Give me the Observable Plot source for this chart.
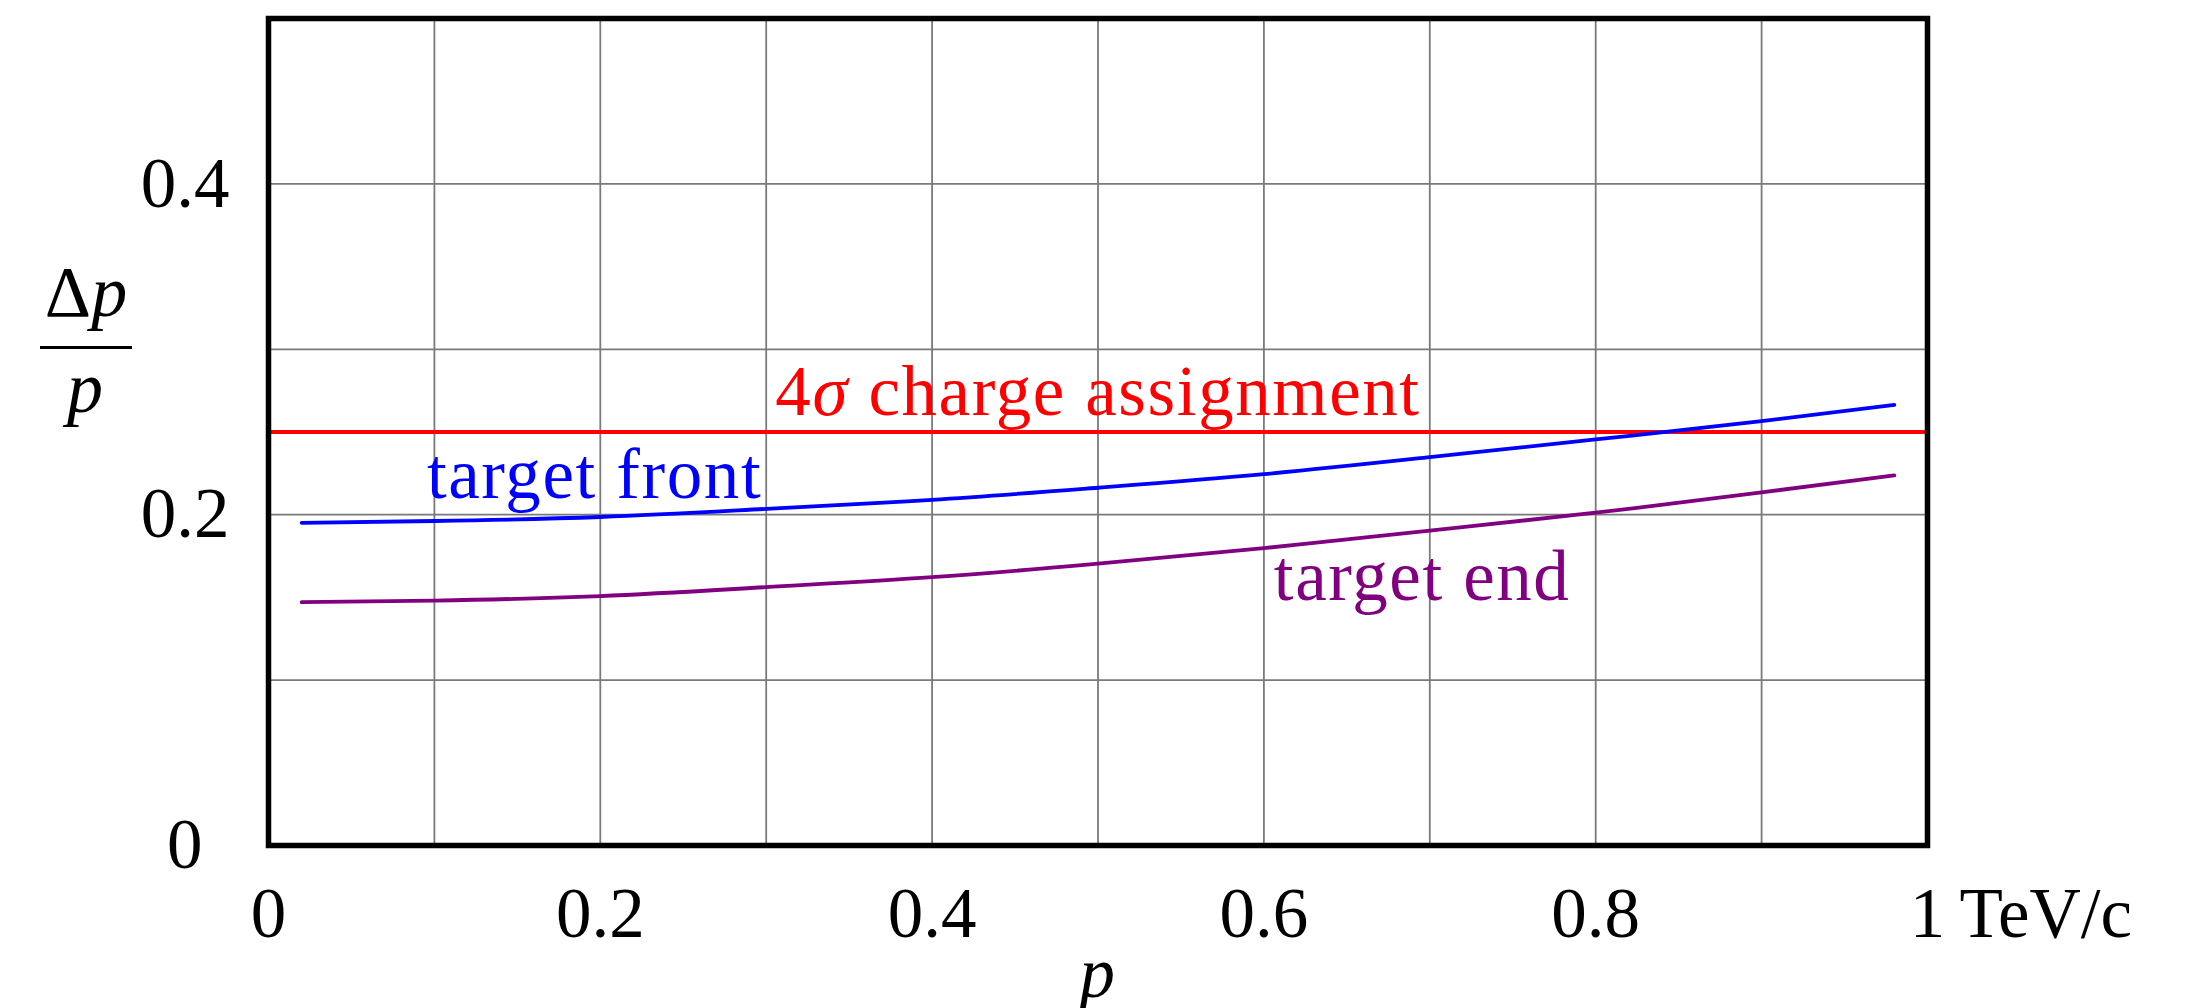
<!DOCTYPE html>
<html>
<head>
<meta charset="utf-8">
<script src="https://cdn.jsdelivr.net/npm/d3@7"></script>
<script src="https://cdn.jsdelivr.net/npm/@observablehq/plot@0.6"></script>
<style>
  body { margin: 0; background: #fff; }
  #chart { position: relative; width: 2198px; height: 1008px; font-family: "Liberation Serif", serif; }
  #chart svg { position: absolute; left: 0; top: 0; }
  /* annotation labels are set a touch wider, like TeX text */
  #chart svg g[aria-label="text"] text { letter-spacing: 1.6px; }
  .ylab { position: absolute; font-size: 72px; line-height: 72px; text-align: center; color: #000; white-space: nowrap; }
  .ylab i { font-style: italic; }
  .ybar { position: absolute; height: 3px; background: #000; }
</style>
</head>
<body>
<div id="chart"></div>
<script>
// Momentum p in TeV/c at which the resolutions are sampled
const momentum = [0.02, 0.1, 0.2, 0.3, 0.4, 0.5, 0.6, 0.7, 0.8, 0.9, 0.98];
// Relative momentum resolution Δp/p for tracks from the target front
const frontResolution = [0.1951, 0.1962, 0.1986, 0.2035, 0.2090, 0.2163, 0.2245, 0.2348, 0.2455, 0.2566, 0.2664];
// Relative momentum resolution Δp/p for tracks from the target end
const endResolution = [0.1471, 0.1481, 0.1508, 0.1562, 0.1622, 0.1704, 0.1798, 0.1904, 0.2012, 0.2135, 0.2238];
// 4σ charge-assignment limit
const chargeThreshold = [0.25];

const seriesNames = ["target front", "target end"];
const thresholdName = ["4σ charge assignment"];

const xTicks = [0, 0.2, 0.4, 0.6, 0.8];
const xEndTick = [1];
const yTicks = [0.2, 0.4];
const yZeroTick = [0];
const xGrid = [0.1, 0.2, 0.3, 0.4, 0.5, 0.6, 0.7, 0.8, 0.9];
const yGrid = [0.1, 0.2, 0.3, 0.4];

const rows = momentum.map((p, i) => ({p, front: frontResolution[i], end: endResolution[i]}));

const FONT = 71;
const LINE_W = 3.8;
const gridStyle = {stroke: "#7a7a7a", strokeOpacity: 1, strokeWidth: 1.8};

const chart = Plot.plot({
  width: 2198,
  height: 1008,
  marginLeft: 268,
  marginRight: 271,
  marginTop: 18,
  marginBottom: 163,
  x: {domain: [0, 1]},
  y: {domain: [0, 0.5]},
  style: {fontFamily: "'Liberation Serif', serif", fontSize: `${FONT}px`, color: "#000", background: "#fff", overflow: "visible"},
  marks: [
    Plot.gridX(xGrid, gridStyle),
    Plot.gridY(yGrid, gridStyle),
    Plot.ruleY(chargeThreshold, {stroke: "#ff0000", strokeWidth: LINE_W}),
    Plot.line(rows, {x: "p", y: "front", stroke: "#0000ff", strokeWidth: LINE_W, curve: "natural"}),
    Plot.line(rows, {x: "p", y: "end", stroke: "#800080", strokeWidth: LINE_W, curve: "natural"}),
    Plot.frame({stroke: "#000", strokeWidth: 5.5}),

    // tick labels
    Plot.axisX(xTicks, {tickSize: 0, tickPadding: 41, tickFormat: d => String(d), fontSize: FONT, label: null}),
    Plot.axisX(xEndTick, {tickSize: 0, tickPadding: 41, tickFormat: d => `${d}\u2009TeV/c`, textAnchor: "start", dx: -17.7, fontSize: FONT, label: null}),
    Plot.axisY(yTicks, {tickSize: 0, tickPadding: 39, tickFormat: d => String(d), fontSize: FONT, label: null}),
    Plot.axisY(yZeroTick, {tickSize: 0, tickPadding: 66, tickFormat: d => String(d), fontSize: FONT, label: null}),

    // curve and threshold labels
    Plot.text(thresholdName, {x: () => 0.5, y: () => 0.26, text: d => d, fill: "#ff0000", textAnchor: "middle", lineAnchor: "bottom", fontSize: FONT, title: null}),
    Plot.text([seriesNames[0]], {x: () => 0.0955, y: () => 0.21, text: d => d, fill: "#0000ff", textAnchor: "start", lineAnchor: "bottom", fontSize: FONT}),
    Plot.text([seriesNames[1]], {x: () => 0.606, y: () => 0.1483, text: d => d, fill: "#800080", textAnchor: "start", lineAnchor: "bottom", fontSize: FONT}),

    // x-axis title
    Plot.text(["p"], {x: () => 0.5, frameAnchor: "bottom", text: d => d, dy: 151.6, lineAnchor: "bottom", textAnchor: "middle", fontStyle: "italic", fontSize: FONT})
  ]
});

const root = document.getElementById("chart");
root.appendChild(chart);

// set the σ of the threshold label in math italic
d3.select(chart).selectAll("text")
  .filter(function () { return this.textContent === thresholdName[0]; })
  .each(function () {
    const t = d3.select(this);
    const [head, tail] = thresholdName[0].split("σ");
    t.text(null);
    t.append("tspan").text(head);
    t.append("tspan").attr("font-style", "italic").text("σ");
    t.append("tspan").text(tail);
  });

// y-axis title: the fraction Δp / p
const num = document.createElement("div");
num.className = "ylab";
num.innerHTML = "Δ<i>p</i>";
num.style.left = "36px"; num.style.width = "100px"; num.style.top = "256px";
root.appendChild(num);

const bar = document.createElement("div");
bar.className = "ybar";
bar.style.left = "40px"; bar.style.width = "92px"; bar.style.top = "345.5px";
root.appendChild(bar);

const den = document.createElement("div");
den.className = "ylab";
den.innerHTML = "<i>p</i>";
den.style.left = "35px"; den.style.width = "100px"; den.style.top = "352px";
root.appendChild(den);
</script>
</body>
</html>
